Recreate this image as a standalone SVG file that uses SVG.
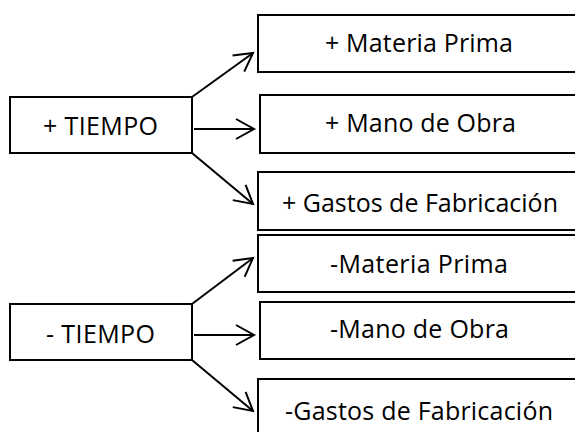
<svg xmlns="http://www.w3.org/2000/svg" width="575" height="432" viewBox="0 0 575 432">
<style>
.box{fill:#fff;stroke:#000;stroke-width:2}
.lbl{font-family:"Open Sans","Liberation Sans",sans-serif;font-size:25px;fill:#000}
.conn line{stroke:#000;stroke-width:2;marker-end:url(#arr)}
</style>
<defs>
<marker id="arr" markerUnits="userSpaceOnUse" viewBox="-20 -12 22 24" refX="0" refY="0" markerWidth="22" markerHeight="24" orient="auto" overflow="visible">
<path d="M-18,-10 L0,0 L-18,10" fill="none" stroke="#000" stroke-width="2" stroke-linejoin="miter"/>
</marker>
</defs>
<rect width="575" height="432" fill="#fff"/>
<g id="mas-tiempo"><rect class="box" x="10" y="97" width="182" height="56"/><text class="lbl" x="43" y="135" textLength="115" lengthAdjust="spacing">+ TIEMPO</text></g>
<g id="mas-materia"><rect class="box" x="258" y="15" width="330" height="57"/><text class="lbl" x="325" y="52" textLength="188" lengthAdjust="spacing">+ Materia Prima</text></g>
<g id="mas-mano"><rect class="box" x="260" y="95" width="330" height="58"/><text class="lbl" x="325" y="132" textLength="191" lengthAdjust="spacing">+ Mano de Obra</text></g>
<g id="mas-gastos"><rect class="box" x="258" y="172" width="330" height="58"/><text class="lbl" x="282" y="212" textLength="276" lengthAdjust="spacing">+ Gastos de Fabricación</text></g>
<g id="menos-tiempo"><rect class="box" x="10" y="304" width="182" height="56"/><text class="lbl" x="46" y="343" textLength="109" lengthAdjust="spacing">- TIEMPO</text></g>
<g id="menos-materia"><rect class="box" x="258" y="235" width="330" height="57"/><text class="lbl" x="330" y="273" textLength="178" lengthAdjust="spacing">-Materia Prima</text></g>
<g id="menos-mano"><rect class="box" x="260" y="302" width="330" height="57"/><text class="lbl" x="330" y="338" textLength="179" lengthAdjust="spacing">-Mano de Obra</text></g>
<g id="menos-gastos"><rect class="box" x="258" y="379" width="330" height="70"/><text class="lbl" x="285" y="420" textLength="268" lengthAdjust="spacing">-Gastos de Fabricación</text></g>
<g id="connectors" class="conn">
<line x1="192" y1="97" x2="253" y2="53"/>
<line x1="194" y1="129" x2="254" y2="129"/>
<line x1="192" y1="153" x2="253" y2="204"/>
<line x1="192" y1="304" x2="253" y2="258"/>
<line x1="194" y1="335" x2="254" y2="335"/>
<line x1="192" y1="360" x2="253" y2="411"/>
</g>
</svg>
